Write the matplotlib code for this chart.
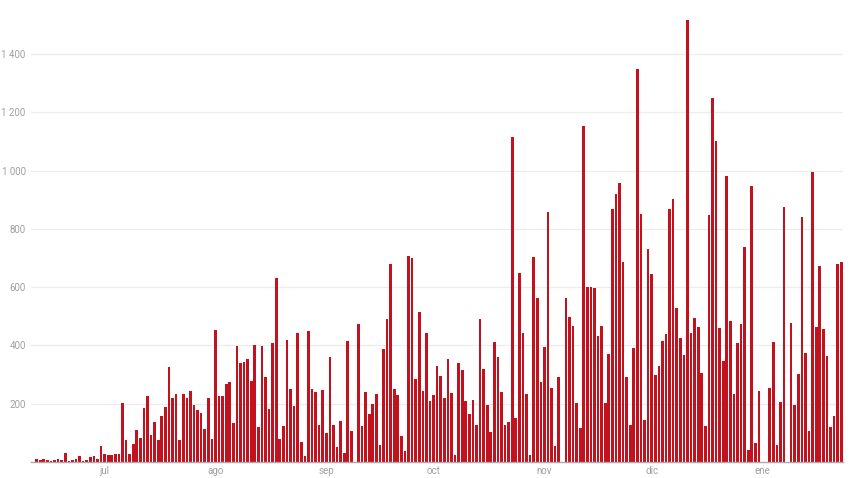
import matplotlib
matplotlib.use("Agg")
import matplotlib.pyplot as plt
import pandas as pd

start_date = "2020-06-12"
values = [
    11, 6, 11, 7, 3, 6, 9, 6, 30, 2,
    6, 9, 21, 2, 6, 17, 19, 11, 54, 26,
    23, 23, 26, 29, 203, 77, 29, 61, 111, 82,
    184, 226, 94, 136, 74, 157, 189, 325, 219, 234,
    77, 234, 218, 243, 195, 179, 167, 114, 218, 79,
    454, 225, 227, 266, 273, 135, 398, 338, 344, 352,
    279, 400, 121, 398, 290, 181, 408, 632, 80, 125,
    417, 250, 191, 441, 69, 19, 450, 250, 239, 127,
    246, 98, 359, 127, 51, 141, 31, 414, 107, 0,
    475, 122, 241, 165, 200, 232, 57, 386, 491, 680,
    251, 229, 89, 37, 708, 701, 285, 516, 242, 444,
    209, 230, 329, 295, 220, 353, 237, 24, 340, 314,
    209, 164, 213, 127, 492, 319, 197, 103, 411, 361,
    240, 127, 138, 1115, 152, 650, 444, 235, 23, 705,
    564, 275, 394, 858, 255, 56, 291, 0, 564, 499,
    466, 204, 117, 1153, 602, 600, 598, 433, 468, 201,
    371, 868, 919, 957, 687, 291, 126, 392, 1349, 850,
    144, 732, 645, 299, 329, 414, 440, 868, 902, 529,
    424, 366, 1515, 442, 494, 463, 305, 124, 849, 1248,
    1102, 459, 347, 980, 483, 235, 407, 474, 737, 42,
    947, 66, 244, 0, 0, 253, 411, 57, 205, 876,
    0, 477, 194, 303, 839, 375, 106, 996, 463, 672,
    458, 365, 121, 157, 681, 685,
]
month_labels = ["jul", "ago", "sep", "oct", "nov", "dic", "ene"]
y_ticks = [200, 400, 600, 800, 1000, 1200, 1400]

dates = pd.date_range(start_date, periods=len(values), freq="D")
x = list(range(len(values)))
month_pos = [i for i, d in enumerate(dates) if d.day == 1]

plt.rcParams['font.family'] = ['Roboto', 'DejaVu Sans']

fig = plt.figure(figsize=(8.5, 4.78), dpi=100)
ax = fig.add_axes([31.3 / 850, 16 / 478, (843 - 31.3) / 850, 462 / 478])

ax.bar(x, values, width=0.74, color="#c3111d", linewidth=0, zorder=3)

ax.set_xlim(-1.5, len(values) - 0.5)
ax.set_ylim(0, 1585)

ax.set_yticks(y_ticks)
ax.set_yticklabels([f"{v:,}".replace(",", " ") for v in y_ticks])
ax.set_xticks(month_pos)
ax.set_xticklabels(month_labels[:len(month_pos)])

ax.grid(axis="y", color="#ececec", linewidth=0.9, zorder=0)
ax.tick_params(axis="both", length=0, labelsize=7, labelcolor="#a0a0a0")
ax.tick_params(axis="y", pad=4)
ax.tick_params(axis="x", pad=3)

for s in ["top", "right", "left"]:
    ax.spines[s].set_visible(False)
ax.spines["bottom"].set_color("#aaaaaa")
ax.spines["bottom"].set_linewidth(1.0)
ax.spines["bottom"].set_zorder(4)

fig.savefig("out.png", dpi=100)
